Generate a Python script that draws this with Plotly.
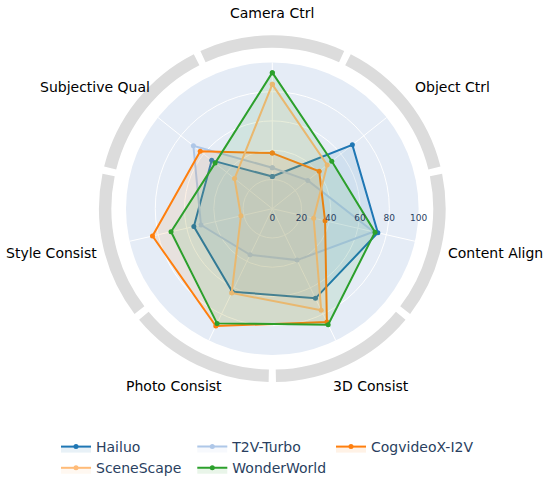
import plotly.graph_objects as go

# ---------------- data ----------------
categories = ["Camera Ctrl", "Object Ctrl", "Content Align", "3D Consist",
              "Photo Consist", "Style Consist", "Subjective Qual"]
hailuo = [22, 70, 74, 68, 63, 55, 53]
t2v_turbo = [28, 31, 71, 39, 35, 50, 69]
cogvideox_i2v = [38, 41, 37, 86, 89, 84, 63]
scenescape = [85, 48, 29, 77, 64, 22, 33]
wonderworld = [93, 52, 72, 88, 87, 71, 50]
series_names = ["Hailuo", "T2V-Turbo", "CogvideoX-I2V", "SceneScape", "WonderWorld"]
radial_ticks = [0, 20, 40, 60, 80, 100]

series_values = [hailuo, t2v_turbo, cogvideox_i2v, scenescape, wonderworld]
colors = ["#1f77b4", "#aec7e8", "#ff7f0e", "#ffbb78", "#2ca02c"]
# legend column of each series (3 columns, filled row by row)
legend_ids = ["legend", "legend2", "legend3", "legend", "legend2"]


def rgba(hex_color, a):
    h = hex_color.lstrip("#")
    r, g, b = int(h[0:2], 16), int(h[2:4], 16), int(h[4:6], 16)
    return f"rgba({r},{g},{b},{a})"


# ---------------- geometry (layout only) ----------------
W, H = 548, 480
cx, cy = 272.3, 208.7          # centre in px (from top-left of figure)
px_per_unit = 1.463
inner_max = 100
outer_max = 125
# category label centres in px (layout)
label_pos = [(272, 13), (452, 87), (495, 253), (371, 386),
             (174, 386), (51, 253), (95, 87)]
legend_x_px = [56, 192.3, 331]
legend_top_px = 431


def domain(rmax):
    rad = rmax * px_per_unit
    return dict(x=[(cx - rad) / W, (cx + rad) / W],
                y=[(H - cy - rad) / H, (H - cy + rad) / H])


fig = go.Figure()

# outer ring segments (decorative) on polar2
n = len(categories)
step = 360.0 / n
fig.add_trace(go.Barpolar(
    r=[8.5] * n, base=[110] * n,
    theta=[i * step for i in range(n)],
    width=[49] * n,
    marker=dict(color="#dcdcdc", line=dict(width=0)),
    showlegend=False, hoverinfo="skip", subplot="polar2",
))

for name, vals, col, lg in zip(series_names, series_values, colors, legend_ids):
    fig.add_trace(go.Scatterpolar(
        r=vals + [vals[0]],
        theta=categories + [categories[0]],
        mode="lines+markers",
        name=name,
        line=dict(color=col, width=2),
        marker=dict(color=col, size=5),
        fill="toself",
        fillcolor=rgba(col, 0.1),
        subplot="polar",
        legend=lg,
    ))

annotations = [
    dict(text=cat, x=px / W, y=1 - py / H, xref="paper", yref="paper",
         xanchor="center", yanchor="middle", showarrow=False,
         font=dict(size=14, color="black", family="DejaVu Sans"))
    for cat, (px, py) in zip(categories, label_pos)
]


def legend_cfg(xpx):
    return dict(orientation="v", x=xpx / W, xanchor="left",
                y=1 - legend_top_px / H, yanchor="top",
                bgcolor="rgba(0,0,0,0)", tracegroupgap=0,
                font=dict(size=14, color="#2a3f5f"))


fig.update_layout(
    width=W, height=H,
    margin=dict(l=0, r=0, t=0, b=0, autoexpand=False),
    paper_bgcolor="white",
    font=dict(family="DejaVu Sans", color="#2a3f5f"),
    polar=dict(
        domain=domain(inner_max),
        bgcolor="#E5ECF6",
        radialaxis=dict(range=[0, inner_max], tickvals=radial_ticks,
                        angle=0, showline=False, ticks="outside", ticklen=1,
                        tickcolor="rgba(0,0,0,0)",
                        gridcolor="white", tickfont=dict(size=9, color="#2a3f5f")),
        angularaxis=dict(direction="clockwise", rotation=90,
                         categoryarray=categories, categoryorder="array",
                         showticklabels=False, ticks="", showline=False,
                         gridcolor="white"),
    ),
    polar2=dict(
        domain=domain(outer_max),
        bgcolor="rgba(0,0,0,0)",
        radialaxis=dict(range=[0, outer_max], visible=False),
        angularaxis=dict(direction="clockwise", rotation=90,
                         showticklabels=False, showgrid=False,
                         showline=False, ticks=""),
    ),
    annotations=annotations,
    legend=legend_cfg(legend_x_px[0]),
    legend2=legend_cfg(legend_x_px[1]),
    legend3=legend_cfg(legend_x_px[2]),
)

fig.write_html("out.html", config={"displayModeBar": False},
               post_script="document.body.style.margin='0';")
